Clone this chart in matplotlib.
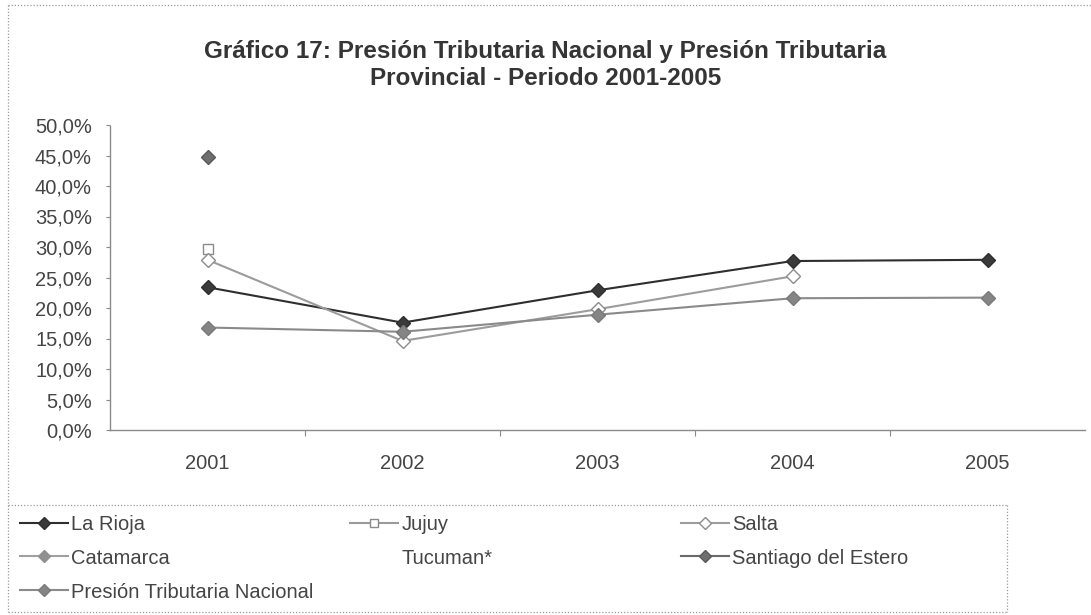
import numpy as np
import matplotlib
matplotlib.use("Agg")
import matplotlib.pyplot as plt
from matplotlib.lines import Line2D
from matplotlib.ticker import FixedLocator, FuncFormatter

# ---------------- data ----------------
years = ["2001", "2002", "2003", "2004", "2005"]
nan = np.nan
la_rioja = [0.234, 0.176, 0.229, 0.277, 0.279]
jujuy = [0.297, nan, nan, nan, nan]
salta = [0.279, 0.146, 0.198, 0.252, nan]
catamarca = [nan, nan, nan, nan, nan]
tucuman = [nan, nan, nan, nan, nan]
santiago = [0.448, nan, nan, nan, nan]
ptn = [0.168, 0.161, 0.189, 0.216, 0.217]
y_ticks = [0.0, 0.05, 0.10, 0.15, 0.20, 0.25, 0.30, 0.35, 0.40, 0.45, 0.50]

title = ("Gráfico 17: Presión Tributaria Nacional y Presión Tributaria\n"
         "Provincial - Periodo 2001-2005")

# ---------------- style ----------------
plt.rcParams['font.family'] = ['Liberation Sans', 'DejaVu Sans']
W, H = 1091, 615
fig = plt.figure(figsize=(W / 100, H / 100), dpi=100)
fig.patch.set_facecolor('white')

def fx(px):
    return px / W

def fy(py):
    return 1 - py / H

ax_left, ax_right, ax_top, ax_bot = 110, 1085, 125, 430
ax = fig.add_axes([fx(ax_left), fy(ax_bot), fx(ax_right - ax_left), (ax_bot - ax_top) / H])
ax.set_facecolor('none')

x = np.arange(len(years))
txt_col = '#454545'
FS = 14.5

series = [
    dict(label="La Rioja", y=la_rioja, color='#2e2e2e', marker='D', mfc='#3a3a3a', mec='#2e2e2e', lw=1.5),
    dict(label="Jujuy", y=jujuy, color='#9a9a9a', marker='s', mfc='white', mec='#8a8a8a', lw=1.5),
    dict(label="Salta", y=salta, color='#9c9c9c', marker='D', mfc='white', mec='#8c8c8c', lw=1.5),
    dict(label="Catamarca", y=catamarca, color='#a0a0a0', marker='D', mfc='#909090', mec='#909090', lw=1.5),
    dict(label="Tucuman*", y=tucuman, color='none', marker='None', mfc='none', mec='none', lw=0),
    dict(label="Santiago del Estero", y=santiago, color='#6a6a6a', marker='D', mfc='#6e6e6e', mec='#5a5a5a', lw=1.5),
    dict(label="Presión Tributaria Nacional", y=ptn, color='#8a8a8a', marker='D', mfc='#858585', mec='#7a7a7a', lw=1.5),
]

handles = {}
for s in series:
    ln, = ax.plot(x, s['y'], color=s['color'], lw=s['lw'], marker=s['marker'],
                  markersize=7, markerfacecolor=s['mfc'], markeredgecolor=s['mec'],
                  markeredgewidth=1.0, label=s['label'], zorder=3)
    handles[s['label']] = ln

ax.set_xlim(-0.5, len(years) - 0.5)
ax.set_ylim(0, 0.5)

# spines
for sp in ['top', 'right']:
    ax.spines[sp].set_visible(False)
ax.spines['left'].set_color('#8a8a8a')
ax.spines['left'].set_linestyle((0, (1, 1)))
ax.spines['left'].set_linewidth(1.0)
ax.spines['bottom'].set_color('#8a8a8a')
ax.spines['bottom'].set_linewidth(1.0)

# y ticks
ax.yaxis.set_major_locator(FixedLocator(y_ticks))
ax.yaxis.set_major_formatter(FuncFormatter(lambda v, p: f"{v*100:.1f}%".replace('.', ',')))
ax.tick_params(axis='y', direction='out', length=3, width=0.8, color='#8a8a8a',
               labelsize=FS, labelcolor=txt_col, pad=10)

# x ticks: marks between categories, labels at centers
ax.xaxis.set_major_locator(FixedLocator(np.arange(0.5, len(years) - 0.5, 1.0)))
ax.xaxis.set_major_formatter(FuncFormatter(lambda v, p: ""))
ax.set_xticks(x, minor=True)
ax.set_xticklabels(years, minor=True)
ax.tick_params(axis='x', which='major', direction='out', length=4, width=0.8, color='#8a8a8a')
ax.tick_params(axis='x', which='minor', length=0, labelsize=FS, labelcolor=txt_col, pad=17)

# title
fig.text(0.5, fy(65), title, ha='center', va='center', fontsize=17.5, fontweight='bold',
         color='#353535', linespacing=1.2)

# borders (chart area + legend box)
bcol = '#9a9a9a'
bls = (0, (1, 1.5))
fig.add_artist(Line2D([fx(8), fx(1091)], [fy(5), fy(5)], color=bcol, lw=0.9, ls=bls))
fig.add_artist(Line2D([fx(8), fx(8)], [fy(5), fy(612)], color=bcol, lw=0.9, ls=bls))
fig.add_artist(Line2D([fx(8), fx(1007)], [fy(505), fy(505)], color=bcol, lw=0.9, ls=bls))
fig.add_artist(Line2D([fx(1007), fx(1007)], [fy(505), fy(612)], color=bcol, lw=0.9, ls=bls))
fig.add_artist(Line2D([fx(8), fx(1007)], [fy(612), fy(612)], color=bcol, lw=0.9, ls=bls))

# legend: one entry per anchored legend, grid positions
leg_pos = {
    "La Rioja": (20, 525),
    "Jujuy": (350, 525),
    "Salta": (681, 525),
    "Catamarca": (20, 558),
    "Tucuman*": (350, 558),
    "Santiago del Estero": (681, 558),
    "Presión Tributaria Nacional": (20, 592),
}
for lab, (px, py) in leg_pos.items():
    lg = fig.legend([handles[lab]], [lab], loc='center left',
                    bbox_to_anchor=(fx(px), fy(py)), frameon=False,
                    fontsize=FS, handlelength=2.4, handletextpad=0.15,
                    borderpad=0, borderaxespad=0, numpoints=1, markerscale=0.85)
    for t in lg.get_texts():
        t.set_color(txt_col)

fig.savefig("out.png", dpi=100, facecolor='white')
